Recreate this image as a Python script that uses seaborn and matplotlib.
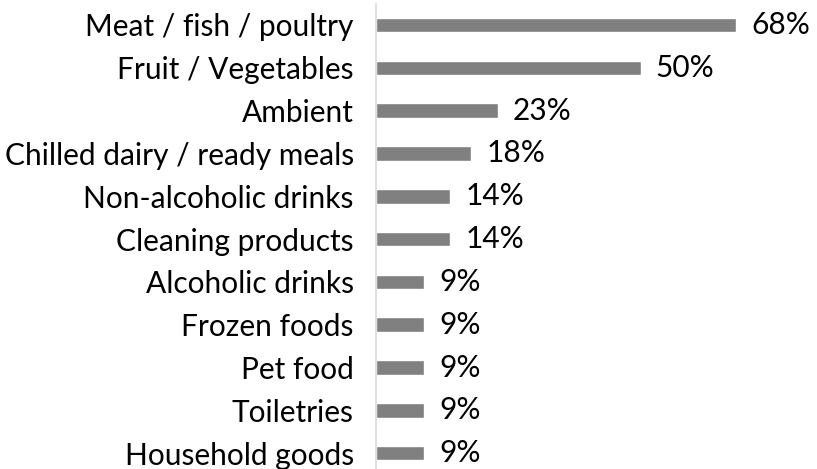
import matplotlib
matplotlib.use("Agg")
import matplotlib.pyplot as plt
import seaborn as sns
import pandas as pd

categories = [
    "Meat / fish / poultry",
    "Fruit / Vegetables",
    "Ambient",
    "Chilled dairy / ready meals",
    "Non-alcoholic drinks",
    "Cleaning products",
    "Alcoholic drinks",
    "Frozen foods",
    "Pet food",
    "Toiletries",
    "Household goods",
]
values = [68, 50, 23, 18, 14, 14, 9, 9, 9, 9, 9]

df = pd.DataFrame({"category": categories, "value": values})

sns.set_theme(style="white")
plt.rcParams["font.family"] = ["Lato", "DejaVu Sans"]

W, H = 817, 469
fig = plt.figure(figsize=(W / 100, H / 100), dpi=100)
left_px, top_px = 376, 4
ax = fig.add_axes([left_px / W, 0, (W - left_px) / W, (H - top_px) / H])

sns.barplot(data=df, x="value", y="category", color="#808080",
            saturation=1, width=0.34, ax=ax, orient="h")

px_per_unit = 5.29
ax.set_xlim(0, (W - left_px) / px_per_unit)
ax.set_ylim(10.37, -0.49)

for i, v in enumerate(values):
    ax.annotate(f"{v}%", xy=(v, i), xytext=(11, 0), textcoords="offset points",
                va="center", ha="left", fontsize=21.5, color="#000000")

ax.set_xlabel("")
ax.set_ylabel("")
ax.set_xticks([])
ax.tick_params(axis="y", length=0, pad=16, labelsize=21.5, labelcolor="#000000")
for s in ["top", "right", "bottom"]:
    ax.spines[s].set_visible(False)
ax.spines["left"].set_color("#d9d9d9")
ax.spines["left"].set_linewidth(1.2)

fig.savefig("out.png", dpi=100)
